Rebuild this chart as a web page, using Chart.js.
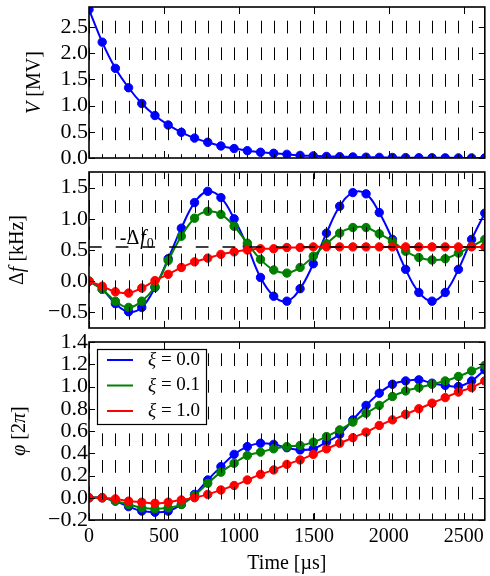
<!DOCTYPE html>
<html>
<head>
<meta charset="utf-8">
<script src="https://cdn.jsdelivr.net/npm/chart.js@4"></script>
<style>
  body { margin: 0; background: #fff; }
  #wrap { position: relative; width: 490px; height: 576px; overflow: hidden; background: #fff; }
  canvas { position: absolute; left: 0; }
</style>
</head>
<body>
<div id="wrap">
  <canvas id="voltageChart" width="490" height="170" style="top:0px"></canvas>
  <canvas id="detuneChart" width="490" height="180" style="top:160px"></canvas>
  <canvas id="phaseChart" width="490" height="246" style="top:330px"></canvas>
</div>
<script>
// pulse times [µs]
const times = [0, 88, 176, 264, 352, 440, 528, 616, 704, 792, 880, 968, 1056, 1144, 1232, 1320,
  1408, 1496, 1584, 1672, 1760, 1848, 1936, 2024, 2112, 2200, 2288, 2376, 2464, 2552, 2640];
const xTicks = [0, 500, 1000, 1500, 2000, 2500];
const xMax = 2640;

const xiLabels = ['0.0', '0.1', '1.0'];
const colors = ['#0000ff', '#008000', '#ff0000'];

// V [MV]
const voltage = [2.83, 2.21, 1.71, 1.34, 1.04, 0.81, 0.63, 0.49, 0.38, 0.30, 0.23, 0.18, 0.14, 0.11, 0.09,
  0.07, 0.05, 0.04, 0.03, 0.025, 0.02, 0.015, 0.012, 0.01, 0.007, 0.005, 0.004, 0.003, 0.002, 0.002, 0.001];
const vTicks = [0, 0.5, 1, 1.5, 2, 2.5];

// delta f [kHz]
const dfXi0 = [0, -0.13, -0.36, -0.49, -0.42, -0.10, 0.36, 0.85, 1.26, 1.44, 1.34, 1.00, 0.56, 0.06, -0.24,
  -0.32, -0.12, 0.28, 0.77, 1.20, 1.42, 1.40, 1.10, 0.67, 0.19, -0.18, -0.32, -0.18, 0.19, 0.67, 1.09];
const dfXi01 = [0, -0.13, -0.32, -0.42, -0.32, -0.09, 0.33, 0.72, 1.01, 1.12, 1.07, 0.88, 0.61, 0.35, 0.18,
  0.13, 0.22, 0.40, 0.60, 0.77, 0.86, 0.86, 0.76, 0.64, 0.48, 0.38, 0.34, 0.36, 0.45, 0.56, 0.67];
const dfXi1 = [0, -0.08, -0.17, -0.19, -0.11, 0.01, 0.11, 0.22, 0.31, 0.37, 0.43, 0.47, 0.50, 0.52, 0.52,
  0.54, 0.54, 0.55, 0.55, 0.55, 0.55, 0.55, 0.55, 0.55, 0.55, 0.55, 0.55, 0.55, 0.55, 0.55, 0.55];
const dfTarget = 0.55;
const dfTicks = [-0.5, 0, 0.5, 1, 1.5];

// phi [2 pi]
const phiXi0 = [0, 0, -0.03, -0.08, -0.12, -0.13, -0.12, -0.06, 0.03, 0.16, 0.28, 0.39, 0.46, 0.49, 0.48,
  0.45, 0.43, 0.44, 0.50, 0.57, 0.70, 0.83, 0.94, 1.02, 1.05, 1.06, 1.03, 1.01, 1.00, 1.05, 1.15];
const phiXi01 = [0, 0, -0.03, -0.06, -0.09, -0.10, -0.09, -0.06, 0.02, 0.13, 0.23, 0.31, 0.38, 0.41, 0.44,
  0.46, 0.47, 0.50, 0.55, 0.61, 0.68, 0.76, 0.83, 0.91, 0.96, 0.99, 1.02, 1.05, 1.09, 1.14, 1.19];
const phiXi1 = [0, 0, -0.01, -0.03, -0.04, -0.05, -0.04, -0.02, 0, 0.03, 0.07, 0.11, 0.16, 0.21, 0.25,
  0.30, 0.34, 0.39, 0.44, 0.49, 0.54, 0.59, 0.65, 0.70, 0.75, 0.80, 0.85, 0.90, 0.95, 0.99, 1.05];
const phiTicks = [-0.2, 0, 0.2, 0.4, 0.6, 0.8, 1.0, 1.2, 1.4];

const FAMILY = '"Liberation Serif", "Times New Roman", serif';
const xTickFont = { family: FAMILY, size: 20 };
const yTickFont = { family: FAMILY, size: 22 };

function fontStr(italic, size) {
  return (italic ? 'italic ' : '') + size + 'px ' + FAMILY;
}

function drawRuns(ctx, runs, x, y, size, centered) {
  let total = 0;
  runs.forEach(r => { ctx.font = fontStr(r[1], size); total += ctx.measureText(r[0]).width; });
  let cx = centered ? x - total / 2 : x;
  runs.forEach(r => {
    ctx.font = fontStr(r[1], size);
    ctx.fillText(r[0], cx, y);
    cx += ctx.measureText(r[0]).width;
  });
}

function fmt(decimals) {
  return v => (v < -1e-9 ? '\u2212' : '') + Math.abs(v).toFixed(decimals);
}

function series(values, i, mode) {
  return {
    label: xiLabels[i],
    data: times.map((t, k) => ({ x: t, y: values[k] })),
    borderColor: colors[i],
    backgroundColor: colors[i],
    pointBorderColor: colors[i],
    pointBackgroundColor: colors[i],
    borderWidth: 2,
    pointRadius: 4.2,
    pointBorderWidth: 1,
    tension: 0.4,
    cubicInterpolationMode: mode || 'default',
    order: 3 - i
  };
}

// frame, inward ticks, pulse markers, y label
function panelDecor(title, titleX, phase) {
  return {
    id: 'panelDecor',
    afterDatasetsDraw(chart) {
      const { ctx, chartArea: a, scales } = chart;
      ctx.save();
      ctx.beginPath();
      ctx.rect(a.left, a.top, a.right - a.left, a.bottom - a.top);
      ctx.clip();
      ctx.strokeStyle = '#000';
      ctx.lineWidth = 1;
      ctx.setLineDash([12.7, 14]);
      ctx.lineDashOffset = 26.7 - phase;
      times.forEach(t => {
        const x = Math.round(scales.x.getPixelForValue(t)) + 0.5;
        ctx.beginPath();
        ctx.moveTo(x, a.top);
        ctx.lineTo(x, a.bottom);
        ctx.stroke();
      });
      ctx.restore();

      ctx.save();
      ctx.strokeStyle = '#000';
      ctx.lineWidth = 1;
      xTicks.forEach(t => {
        const x = Math.round(scales.x.getPixelForValue(t)) + 0.5;
        ctx.beginPath();
        ctx.moveTo(x, a.bottom); ctx.lineTo(x, a.bottom - 7);
        ctx.moveTo(x, a.top); ctx.lineTo(x, a.top + 7);
        ctx.stroke();
      });
      scales.y.ticks.forEach(tk => {
        const y = Math.round(scales.y.getPixelForValue(tk.value)) + 0.5;
        ctx.beginPath();
        ctx.moveTo(a.left, y); ctx.lineTo(a.left + 6, y);
        ctx.moveTo(a.right, y); ctx.lineTo(a.right - 6, y);
        ctx.stroke();
      });
      ctx.lineWidth = 1.6;
      ctx.strokeRect(a.left, a.top, a.right - a.left, a.bottom - a.top);

      ctx.fillStyle = '#000';
      ctx.textBaseline = 'middle';
      ctx.translate(titleX, (a.top + a.bottom) / 2);
      ctx.rotate(-Math.PI / 2);
      drawRuns(ctx, title, 0, 0, 20, true);
      ctx.restore();
    }
  };
}

function panelOptions(yMin, yMax, yTicks, decimals, padding, showX) {
  return {
    responsive: false,
    animation: false,
    events: [],
    layout: { padding: padding },
    plugins: { legend: { display: false }, tooltip: { enabled: false } },
    scales: {
      x: {
        type: 'linear',
        min: 0,
        max: xMax,
        display: showX,
        afterBuildTicks: s => { s.ticks = xTicks.map(v => ({ value: v })); },
        afterFit: s => {
          if (showX) s.height = 56;
          s.paddingLeft = 0;
          s.paddingRight = 0;
        },
        grid: { display: false, drawTicks: false },
        border: { display: false },
        ticks: { color: '#000', font: xTickFont, padding: 5, maxRotation: 0, autoSkip: false, callback: v => String(v) },
        title: { display: showX, text: 'Time [\u00b5s]', color: '#000', font: { family: FAMILY, size: 20 }, padding: 0 }
      },
      y: {
        min: yMin,
        max: yMax,
        afterBuildTicks: s => { s.ticks = yTicks.map(v => ({ value: v })); },
        afterFit: s => { s.width = 89; s.paddingTop = 0; s.paddingBottom = 0; },
        grid: { display: false, drawTicks: false },
        border: { display: false },
        ticks: { color: '#000', font: yTickFont, padding: 1, autoSkip: false, callback: fmt(decimals) }
      }
    }
  };
}

new Chart(document.getElementById('voltageChart').getContext('2d'), {
  type: 'line',
  data: { datasets: [series(voltage, 0, 'monotone')] },
  options: panelOptions(0, 2.88, vTicks, 1, { left: 0, right: 1, top: 7, bottom: 12 }, false),
  plugins: [panelDecor([['V', true], [' [MV]', false]], 35, 13.7)]
});

const targetLabel = {
  id: 'targetLabel',
  afterDatasetsDraw(chart) {
    const { ctx, scales } = chart;
    const x = scales.x.getPixelForValue(205);
    const y = scales.y.getPixelForValue(dfTarget + 0.045);
    ctx.save();
    ctx.fillStyle = '#000';
    ctx.textBaseline = 'alphabetic';
    ctx.font = fontStr(false, 20);
    ctx.fillText('-\u0394', x, y);
    let cx = x + ctx.measureText('-\u0394').width + 1;
    ctx.font = fontStr(true, 20);
    ctx.fillText('f', cx, y);
    cx += ctx.measureText('f').width + 1;
    ctx.font = fontStr(false, 14);
    ctx.fillText('0', cx, y + 4);
    ctx.restore();
  }
};

new Chart(document.getElementById('detuneChart').getContext('2d'), {
  type: 'line',
  data: {
    datasets: [
      series(dfXi0, 0),
      series(dfXi01, 1),
      series(dfXi1, 2),
      {
        label: 'target',
        data: [{ x: 0, y: dfTarget }, { x: xMax, y: dfTarget }],
        borderColor: '#000',
        borderWidth: 1.5,
        borderDash: [12.7, 14],
        pointRadius: 0,
        order: 0
      }
    ]
  },
  options: panelOptions(-0.75, 1.75, dfTicks, 1, { left: 0, right: 1, top: 12, bottom: 12 }, false),
  plugins: [panelDecor([['\u0394', false], ['f', true], [' [kHz]', false]], 18, 1.5), targetLabel]
});

const xiLegend = {
  id: 'xiLegend',
  afterDraw(chart) {
    const { ctx, chartArea: a } = chart;
    const bx = a.left + 8, by = a.top + 7, bw = 109, bh = 75;
    ctx.save();
    ctx.fillStyle = '#fff';
    ctx.fillRect(bx, by, bw, bh);
    ctx.strokeStyle = '#000';
    ctx.lineWidth = 1.2;
    ctx.strokeRect(bx + 0.5, by + 0.5, bw, bh);
    ctx.textBaseline = 'middle';
    chart.data.datasets.forEach((ds, i) => {
      const y = by + 11 + i * 25.5;
      ctx.strokeStyle = ds.borderColor;
      ctx.lineWidth = 2;
      ctx.beginPath();
      ctx.moveTo(bx + 10, y);
      ctx.lineTo(bx + 36, y);
      ctx.stroke();
      ctx.fillStyle = '#000';
      drawRuns(ctx, [['\u03be', true], [' = ' + ds.label, false]], bx + 51, y, 19, false);
    });
    ctx.restore();
  }
};

new Chart(document.getElementById('phaseChart').getContext('2d'), {
  type: 'line',
  data: {
    datasets: [
      series(phiXi0, 0),
      series(phiXi01, 1),
      series(phiXi1, 2)
    ]
  },
  options: panelOptions(-0.2, 1.4, phiTicks, 1, { left: 0, right: 1, top: 12, bottom: 0 }, true),
  plugins: [panelDecor([['\u03c6', true], [' [2', false], ['\u03c0', true], [']', false]], 20, 11.3), xiLegend]
});
</script>
</body>
</html>
